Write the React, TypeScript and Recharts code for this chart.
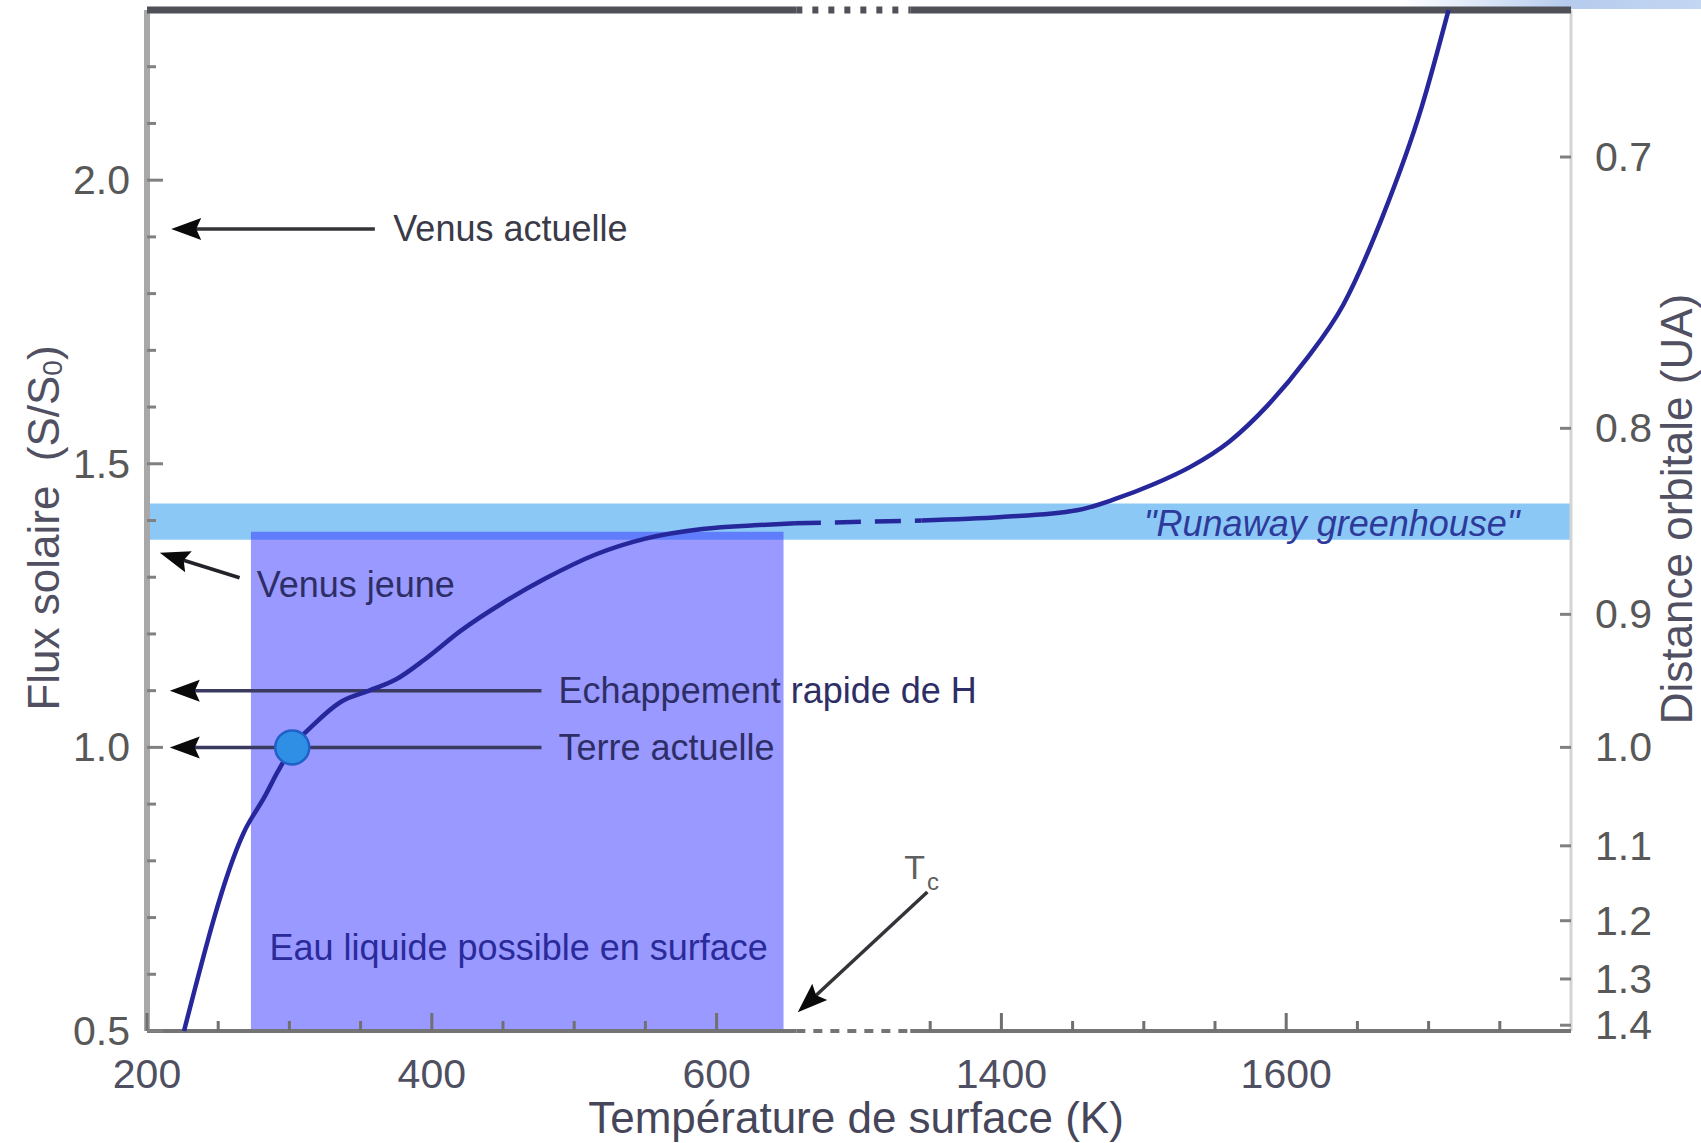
import React from 'react';
import {
  ComposedChart,
  Line,
  XAxis,
  YAxis,
  ReferenceArea,
  ReferenceLine,
  ReferenceDot,
  Label,
} from 'recharts';

const CHART_W = 1701;
const CHART_H = 1143;
const FONT = '"Liberation Sans", Arial, Helvetica, sans-serif';

// The temperature axis is broken between ~650 K and ~1340 K:
// the hot branch is slid left by AXIS_SHIFT kelvin on the drawing axis.
const AXIS_SHIFT = 600;
const toAxis = (t: number) => (t >= 1000 ? t - AXIS_SHIFT : t);
const fromAxis = (u: number) => (u > 700 ? u + AXIS_SHIFT : u);

// Temperate branch: surface temperature (K) vs solar flux (S/S0)
const coolTemps = [226, 268, 283, 292, 302, 317, 336, 356, 375, 395, 420, 450, 480, 515, 550, 590, 630, 655];
const coolFlux = [0.5, 0.85, 0.915, 0.958, 1.0, 1.04, 1.08, 1.1, 1.12, 1.155, 1.205, 1.255, 1.298, 1.34, 1.368, 1.385, 1.392, 1.395];

// Dashed link across the axis break
const linkTemps = [655, 1344];
const linkFlux = [1.395, 1.4];

// Runaway branch
const hotTemps = [1344, 1400, 1453, 1480, 1506, 1533, 1560, 1587, 1614, 1640, 1668, 1695, 1714];
const hotFlux = [1.4, 1.406, 1.418, 1.438, 1.463, 1.495, 1.539, 1.603, 1.684, 1.78, 1.938, 2.128, 2.3];

// Axis ticks
const tempMajor = [200, 400, 600, 1400, 1600];
const tempMinor = [250, 300, 350, 450, 500, 550, 1350, 1450, 1500, 1550, 1650, 1700, 1750];
const fluxMajor = [0.5, 1.0, 1.5, 2.0];
const fluxMinor = [0.6, 0.7, 0.8, 0.9, 1.1, 1.2, 1.3, 1.4, 1.6, 1.7, 1.8, 1.9, 2.1, 2.2];
const distances = [0.7, 0.8, 0.9, 1.0, 1.1, 1.2, 1.3, 1.4]; // UA, flux = 1/d^2

const T_MIN = 200;
const T_MAX = 1800;
const FLUX_MIN = 0.5;
const FLUX_MAX = 2.3;
const axisBreak = { from: 656, to: 1336 };

// Zones and marked states
const liquidWater = { from: 273, to: 647, fluxTop: 1.38 };
const runawayBand = { low: 1.366, high: 1.43 };
const earthNow = { t: 302, flux: 1.0 };

// Annotation arrows: tail -> head, in (temperature, flux)
const arrows = [
  { tail: [360, 1.914], head: [217, 1.914], color: '#333338' },
  { tail: [265, 1.299], head: [209, 1.343], color: '#222228' },
  { tail: [477, 1.1], head: [216, 1.1], color: '#3a3a60' },
  { tail: [477, 1.0], head: [216, 1.0], color: '#3a3a60' },
  { tail: [1348, 0.745], head: [657, 0.533], color: '#333338' },
];

const notes = [
  { text: 'Venus actuelle', at: [373, 1.914], color: '#3a3a48' },
  { text: 'Venus jeune', at: [277, 1.287], color: '#2e2e66' },
  { text: 'Echappement rapide de H', at: [489, 1.1], color: '#2e2e66' },
  { text: 'Terre actuelle', at: [489, 1.0], color: '#2e2e66' },
  { text: 'Eau liquide possible en surface', at: [286, 0.648], color: '#2a2a9a' },
];
const runawayNote = { text: '"Runaway greenhouse"', at: [1500, 1.394] };
const tcNote = { at: [1344, 0.789] };

const cool = coolTemps.map((t, i) => ({ u: toAxis(t), s: coolFlux[i] }));
const link = linkTemps.map((t, i) => ({ u: toAxis(t), s: linkFlux[i] }));
const hot = hotTemps.map((t, i) => ({ u: toAxis(t), s: hotFlux[i] }));

const xTicks = [...tempMajor, ...tempMinor].sort((a, b) => a - b).map(toAxis);
const yTicks = [...fluxMajor, ...fluxMinor].sort((a, b) => a - b);
const distTicks = distances.map((d) => 1 / (d * d));

const CURVE = '#27279c';

const BottomTick = (p: any) => {
  const u = p.payload.value;
  const t = fromAxis(u);
  const major = tempMajor.includes(t);
  return (
    <g>
      <line x1={p.x} x2={p.x} y1={p.y} y2={p.y - (major ? 18 : 10)} stroke="#707070" strokeWidth={3} />
      {major && (
        <text x={p.x} y={p.y + 43} textAnchor="middle" dominantBaseline="central" fontSize={41} fill="#4f4f62" fontFamily={FONT}>
          {t}
        </text>
      )}
    </g>
  );
};

const TopTick = (p: any) => {
  const t = fromAxis(p.payload.value);
  const major = tempMajor.includes(t);
  return <line x1={p.x} x2={p.x} y1={p.y} y2={p.y + (major ? 20 : 12)} stroke="#555" strokeWidth={3} />;
};

const LeftTick = (p: any) => {
  const v = p.payload.value;
  const major = fluxMajor.includes(v);
  return (
    <g>
      <line x1={p.x} x2={p.x + (major ? 16 : 9)} y1={p.y} y2={p.y} stroke="#808080" strokeWidth={3} />
      {major && (
        <text x={p.x - 17} y={p.y} textAnchor="end" dominantBaseline="central" fontSize={41} fill="#585858" fontFamily={FONT}>
          {v.toFixed(1)}
        </text>
      )}
    </g>
  );
};

const RightTick = (p: any) => {
  const d = 1 / Math.sqrt(p.payload.value);
  return (
    <g>
      <line x1={p.x} x2={p.x - 11} y1={p.y} y2={p.y} stroke="#808080" strokeWidth={3} />
      <text x={p.x + 24} y={p.y} textAnchor="start" dominantBaseline="central" fontSize={41} fill="#585858" fontFamily={FONT}>
        {d.toFixed(1)}
      </text>
    </g>
  );
};

const XTitle = (p: any) => {
  const vb = p.viewBox;
  return (
    <text x={vb.x + vb.width / 2 - 3} y={vb.y + 86} textAnchor="middle" dominantBaseline="central" fontSize={44} fill="#46465a" fontFamily={FONT}>
      Température de surface (K)
    </text>
  );
};

const YLeftTitle = (p: any) => {
  const x = p.viewBox.x + 43;
  const y = 528;
  return (
    <text transform={`rotate(-90 ${x} ${y})`} x={x} y={y} textAnchor="middle" dominantBaseline="central" fontSize={44} fill="#505062" fontFamily={FONT} style={{ whiteSpace: 'pre' }}>
      Flux solaire  (S/S
      <tspan fontSize={28} dy={9}>0</tspan>
      <tspan dy={-9}>)</tspan>
    </text>
  );
};

const YRightTitle = (p: any) => {
  const x = p.viewBox.x + 105;
  const y = 509;
  return (
    <text transform={`rotate(-90 ${x} ${y})`} x={x} y={y} textAnchor="middle" dominantBaseline="central" fontSize={44} fill="#505062" fontFamily={FONT}>
      Distance orbitale (UA)
    </text>
  );
};

const makeArrow = (color: string) => (p: any) => {
  const { x1, y1, x2, y2 } = p;
  const dx = x2 - x1;
  const dy = y2 - y1;
  const len = Math.hypot(dx, dy) || 1;
  const ux = dx / len;
  const uy = dy / len;
  const nx = -uy;
  const ny = ux;
  const L = 30;
  const hw = 11;
  const bx = x2 - ux * L;
  const by = y2 - uy * L;
  return (
    <g>
      <line x1={x1} y1={y1} x2={bx + ux * 6} y2={by + uy * 6} stroke={color} strokeWidth={3.5} />
      <polygon points={`${x2},${y2} ${bx + nx * hw},${by + ny * hw} ${bx + ux * 5},${by + uy * 5} ${bx - nx * hw},${by - ny * hw}`} fill="#0a0a0a" />
    </g>
  );
};

const noteShape = (text: string, color: string) => (p: any) => (
  <text x={p.cx} y={p.cy} textAnchor="start" dominantBaseline="central" fontSize={36} fill={color} fontFamily={FONT}>
    {text}
  </text>
);

const runawayShape = (p: any) => (
  <text x={p.cx} y={p.cy} textAnchor="start" dominantBaseline="central" fontSize={36} fontStyle="italic" fill="#2e3a9a" fontFamily={FONT}>
    {runawayNote.text}
  </text>
);

const tcShape = (p: any) => (
  <text x={p.cx} y={p.cy} textAnchor="middle" dominantBaseline="central" fontSize={34} fill="#606060" fontFamily={FONT}>
    T
    <tspan fontSize={24} dx={2} dy={14}>c</tspan>
  </text>
);

const earthShape = (p: any) => (
  <circle cx={p.cx} cy={p.cy} r={17} fill="#2e8fe4" stroke="#2060c8" strokeWidth={2.5} />
);

export default function App() {
  const uMin = toAxis(T_MIN);
  const uMax = toAxis(T_MAX);
  const bFrom = toAxis(axisBreak.from);
  const bTo = toAxis(axisBreak.to);
  return (
    <div style={{ position: 'absolute', left: 0, top: 0, width: CHART_W, height: CHART_H, background: '#ffffff' }}>
      <div
        style={{
          position: 'absolute',
          left: 1400,
          top: 0,
          width: CHART_W - 1400,
          height: 9,
          background: 'linear-gradient(to right, rgba(190,208,236,0), #b6ccee 55%, #c3d6f2)',
        }}
      />
      <div style={{ position: 'absolute', left: 0, top: 0 }}>
        <ComposedChart width={CHART_W} height={CHART_H} margin={{ top: 10, right: 0, bottom: 0, left: 0 }}>
          <XAxis
            dataKey="u"
            type="number"
            domain={[uMin, uMax]}
            ticks={xTicks}
            interval={0}
            height={112}
            tickSize={0}
            tickMargin={0}
            axisLine={false}
            tickLine={false}
            tick={BottomTick}
          >
            <Label content={XTitle} />
          </XAxis>
          <XAxis
            xAxisId="top"
            orientation="top"
            dataKey="u"
            type="number"
            domain={[uMin, uMax]}
            ticks={xTicks}
            interval={0}
            height={0}
            tickSize={0}
            tickMargin={0}
            axisLine={false}
            tickLine={false}
            tick={TopTick}
          />
          <YAxis
            type="number"
            domain={[FLUX_MIN, FLUX_MAX]}
            ticks={yTicks}
            interval={0}
            width={147}
            tickSize={0}
            tickMargin={0}
            axisLine={false}
            tickLine={false}
            tick={LeftTick}
          >
            <Label content={YLeftTitle} />
          </YAxis>
          <YAxis
            yAxisId="right"
            orientation="right"
            type="number"
            domain={[FLUX_MIN, FLUX_MAX]}
            ticks={distTicks}
            interval={0}
            width={130}
            tickSize={0}
            tickMargin={0}
            axisLine={false}
            tickLine={false}
            tick={RightTick}
            allowDataOverflow
          >
            <Label content={YRightTitle} />
          </YAxis>

          <ReferenceArea x1={uMin} x2={uMax} y1={runawayBand.low} y2={runawayBand.high} fill="#8cc8f6" fillOpacity={1} stroke="none" />
          <ReferenceArea
            x1={toAxis(liquidWater.from)}
            x2={toAxis(liquidWater.to)}
            y1={FLUX_MIN}
            y2={liquidWater.fluxTop}
            fill="#3333ff"
            fillOpacity={0.5}
            stroke="none"
          />

          {/* frame */}
          <ReferenceLine x={uMin} stroke="#a8a8a8" strokeWidth={6} />
          <ReferenceLine x={uMax} stroke="#d4d4d4" strokeWidth={3} />
          <ReferenceLine segment={[{ x: uMin, y: FLUX_MIN }, { x: bFrom, y: FLUX_MIN }]} stroke="#747474" strokeWidth={4} />
          <ReferenceLine segment={[{ x: bFrom, y: FLUX_MIN }, { x: bTo, y: FLUX_MIN }]} stroke="#747474" strokeWidth={4} strokeDasharray="9 8" />
          <ReferenceLine segment={[{ x: bTo, y: FLUX_MIN }, { x: uMax, y: FLUX_MIN }]} stroke="#747474" strokeWidth={4} />
          <ReferenceLine segment={[{ x: uMin, y: FLUX_MAX }, { x: bFrom, y: FLUX_MAX }]} stroke="#505058" strokeWidth={7} />
          <ReferenceLine segment={[{ x: bFrom, y: FLUX_MAX }, { x: bTo, y: FLUX_MAX }]} stroke="#505058" strokeWidth={7} strokeDasharray="6 10" />
          <ReferenceLine segment={[{ x: bTo, y: FLUX_MAX }, { x: uMax, y: FLUX_MAX }]} stroke="#505058" strokeWidth={7} />

          {arrows.map((a, i) => (
            <ReferenceLine
              key={`arrow-${i}`}
              segment={[
                { x: toAxis(a.tail[0]), y: a.tail[1] },
                { x: toAxis(a.head[0]), y: a.head[1] },
              ]}
              shape={makeArrow(a.color)}
            />
          ))}

          {/* invisible copy on the distance axis so that axis gets its scale */}
          <Line yAxisId="right" data={cool} dataKey="s" type="monotone" stroke="none" dot={false} activeDot={false} isAnimationActive={false} legendType="none" />

          <Line data={cool} dataKey="s" type="monotone" stroke={CURVE} strokeWidth={4.5} dot={false} activeDot={false} isAnimationActive={false} />
          <Line data={link} dataKey="s" type="linear" stroke={CURVE} strokeWidth={4.5} strokeDasharray="26 14" dot={false} activeDot={false} isAnimationActive={false} />
          <Line data={hot} dataKey="s" type="monotone" stroke={CURVE} strokeWidth={4.5} dot={false} activeDot={false} isAnimationActive={false} />

          <ReferenceDot x={toAxis(earthNow.t)} y={earthNow.flux} r={17} shape={earthShape} />

          {notes.map((n, i) => (
            <ReferenceDot key={`note-${i}`} x={toAxis(n.at[0])} y={n.at[1]} r={0} shape={noteShape(n.text, n.color)} />
          ))}
          <ReferenceDot x={toAxis(runawayNote.at[0])} y={runawayNote.at[1]} r={0} shape={runawayShape} />
          <ReferenceDot x={toAxis(tcNote.at[0])} y={tcNote.at[1]} r={0} shape={tcShape} />
        </ComposedChart>
      </div>
    </div>
  );
}
